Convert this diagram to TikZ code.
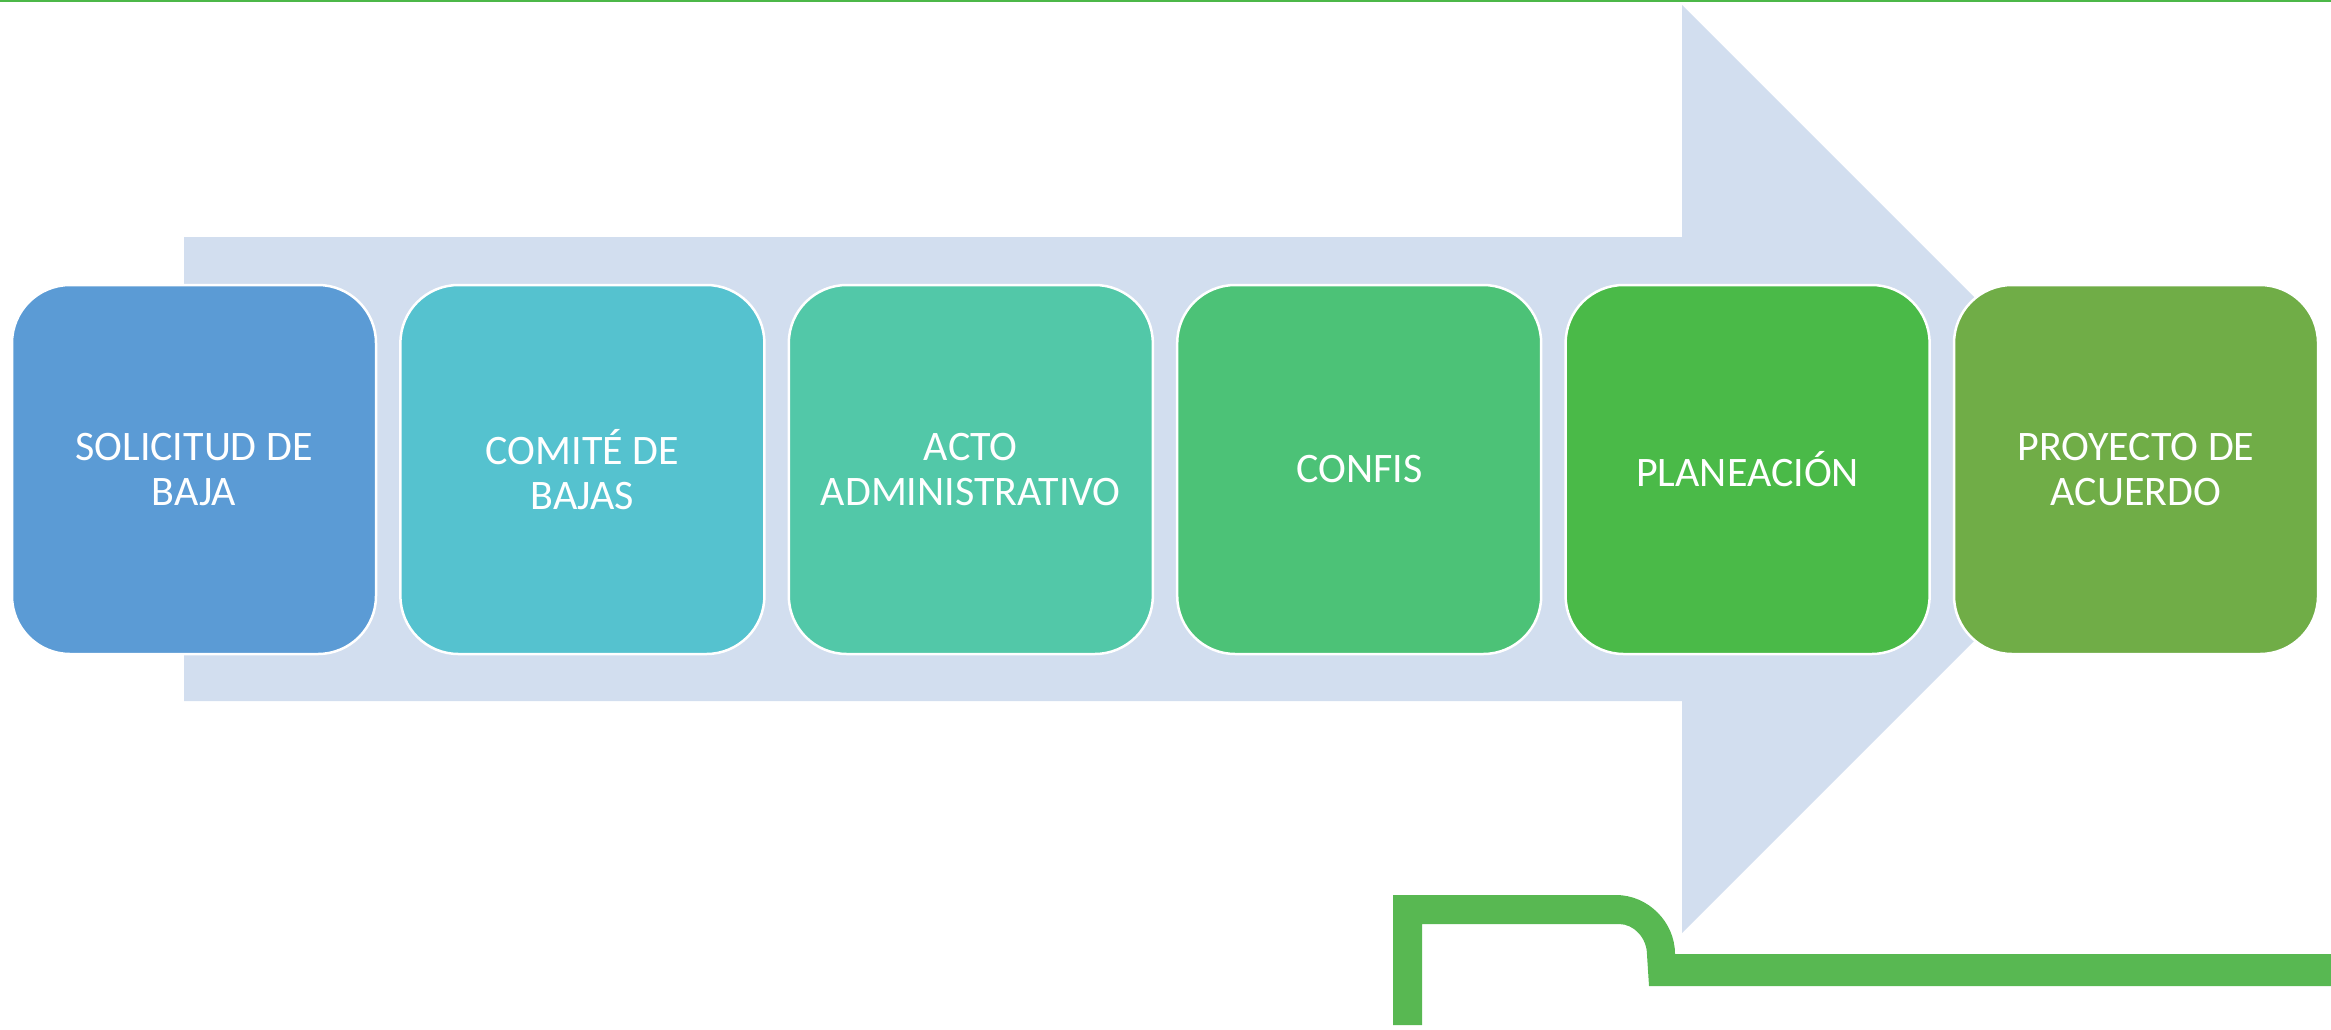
\documentclass[tikz,border=0pt]{standalone}
\usepackage{fontspec}
\setmainfont{Carlito}
\definecolor{arrowbg}{HTML}{D2DEEF}
\definecolor{cA}{HTML}{5B9BD5}
\definecolor{cB}{HTML}{55C2CF}
\definecolor{cC}{HTML}{52C8A8}
\definecolor{cD}{HTML}{4CC277}
\definecolor{cE}{HTML}{4ABA48}
\definecolor{cF}{HTML}{70AD47}
\definecolor{gshape}{HTML}{58B852}
\definecolor{gline}{HTML}{4CB848}
\tikzset{
  stepbox/.style={rectangle, rounded corners=17.4pt, draw=white, line width=0.75pt,
    minimum width=109.2pt, minimum height=110.7pt, inner sep=0pt,
    text=white, align=center, font=\fontsize{12.6}{13.6}\selectfont},
}
\begin{document}
\begin{tikzpicture}[x=0.3pt,y=-0.3pt]
\useasboundingbox (0,0) rectangle (2331,1029);
% top line
\draw[gline, line width=0.45pt] (0,0.8) -- (2331,0.8);
% big arrow
\fill[arrowbg] (184,237) -- (1682,237) -- (1682,5) -- (2146,469) -- (1682,933) -- (1682,701) -- (184,701) -- cycle;
% boxes
\node[stepbox, fill=cA] (b1) at (194,469.5) {SOLICITUD DE\\BAJA};
\node[stepbox, fill=cB] (b2) at (582.4,469.5) {COMITÉ DE\\BAJAS};
\node[stepbox, fill=cC] (b3) at (970.8,469.5) {ACTO\\ADMINISTRATIVO};
\node[stepbox, fill=cD] (b4) at (1359.2,469.5) {CONFIS};
\node[stepbox, fill=cE] (b5) at (1747.6,469.5) {PLANEACIÓN};
\node[stepbox, fill=cF] (b6) at (2136,469.5) {PROYECTO DE\\ACUERDO};
% green bottom shape
\fill[gshape] (1393,1025) -- (1393,895) -- (1616,895)
  .. controls (1648,895) and (1675,922) .. (1675,954)
  -- (2331,954) -- (2331,986) -- (1649,986) -- (1647,955)
  .. controls (1647,938) and (1634,924) .. (1619,924)
  -- (1422,924) -- (1422,1025) -- cycle;
\end{tikzpicture}
\end{document}
